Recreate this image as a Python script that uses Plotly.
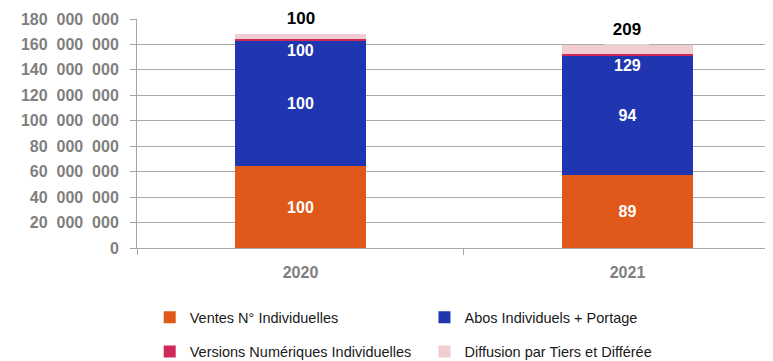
import plotly.graph_objects as go

years = ["2020", "2021"]
ventes = [64.2e6, 57.6e6]
abos = [99.2e6, 93.6e6]
numeriques = [0.8e6, 1.0e6]
tiers = [3.7e6, 7.7e6]

ventes_idx = ["100", "89"]
abos_idx = ["100", "94"]
num_idx = ["100", "129"]
tiers_idx = ["100", "209"]

series_names = ["Ventes N° Individuelles", "Abos Individuels + Portage",
                "Versions Numériques Individuelles", "Diffusion par Tiers et Différée"]
colors = ["#E0581A", "#1F36B0", "#CF2A57", "#F1CDD1"]

ytick_vals = [0, 20e6, 40e6, 60e6, 80e6, 100e6, 120e6, 140e6, 160e6, 180e6]
ytick_text = ["0", "20\u00a0\u00a0000\u00a0\u00a0000", "40\u00a0\u00a0000\u00a0\u00a0000",
              "60\u00a0\u00a0000\u00a0\u00a0000", "80\u00a0\u00a0000\u00a0\u00a0000",
              "100\u00a0\u00a0000\u00a0\u00a0000", "120\u00a0\u00a0000\u00a0\u00a0000",
              "140\u00a0\u00a0000\u00a0\u00a0000", "160\u00a0\u00a0000\u00a0\u00a0000",
              "180\u00a0\u00a0000\u00a0\u00a0000"]

FONT = "Liberation Sans, Arial, sans-serif"

legend_ids = ["legend", "legend2", "legend3", "legend4"]

fig = go.Figure()
seg_values = [ventes, abos, numeriques, tiers]
seg_text = [ventes_idx, abos_idx, None, None]
for k in range(4):
    fig.add_trace(go.Bar(
        x=years, y=seg_values[k], name=series_names[k],
        marker=dict(color=colors[k], line=dict(width=0)),
        text=[f"<b>{t}</b>" for t in seg_text[k]] if seg_text[k] else None,
        textposition="inside" if seg_text[k] else "none", insidetextanchor="middle",
        textfont=dict(color="white", size=16, family=FONT),
        legend=legend_ids[k], hoverinfo="skip"))

annotations = []
for i, yr in enumerate(years):
    # category axis: position annotations by category index
    base_num = ventes[i] + abos[i] + numeriques[i] / 2
    annotations.append(dict(x=i, y=base_num, xref="x", yref="y", text=f"<b>{num_idx[i]}</b>",
                            showarrow=False, yanchor="top",
                            font=dict(color="white", size=16, family=FONT)))
    total = ventes[i] + abos[i] + numeriques[i] + tiers[i]
    annotations.append(dict(x=i, y=total, xref="x", yref="y", text=f"<b>{tiers_idx[i]}</b>",
                            showarrow=False, yanchor="bottom", bgcolor="white",
                            width=42, height=28,
                            font=dict(color="black", size=17, family=FONT)))

# legend placement (paper coordinates relative to the plot area)
leg_x = [0.020, 0.452, 0.020, 0.452]
leg_y = [-0.303, -0.303, -0.452, -0.452]
legend_layout = {}
for k in range(4):
    legend_layout[legend_ids[k]] = dict(
        x=leg_x[k], y=leg_y[k], xanchor="left", yanchor="middle", orientation="h",
        itemwidth=30, bgcolor="rgba(0,0,0,0)",
        font=dict(size=14.5, color="#1A1A1A", family=FONT))

fig.update_layout(
    width=765, height=353,
    margin=dict(l=129, r=0, t=11, b=113, autoexpand=False),
    barmode="stack", bargap=0.6,
    plot_bgcolor="white", paper_bgcolor="white",
    font=dict(family=FONT),
    annotations=annotations,
    xaxis=dict(type="category", range=[-0.5, 1.445], showgrid=False, showline=True, linecolor="#A6A6A6",
               linewidth=1, ticks="outside", tickson="boundaries", ticklen=6, tickcolor="#A6A6A6",
               ticklabelstandoff=10,
               tickfont=dict(color="#7F7F7F", size=16, family=FONT, weight="bold"), zeroline=False),
    yaxis=dict(range=[0, 180e6], tickvals=ytick_vals, ticktext=ytick_text, showgrid=True, gridcolor="#ABABAB",
               gridwidth=1, showline=True, linecolor="#A6A6A6", linewidth=1, ticks="outside", ticklen=6,
               tickcolor="#A6A6A6", ticklabelstandoff=8, zeroline=False,
               tickfont=dict(color="#7F7F7F", size=16, family=FONT, weight="bold")),
    showlegend=True,
    **legend_layout,
)

fig.write_html("out.html")
